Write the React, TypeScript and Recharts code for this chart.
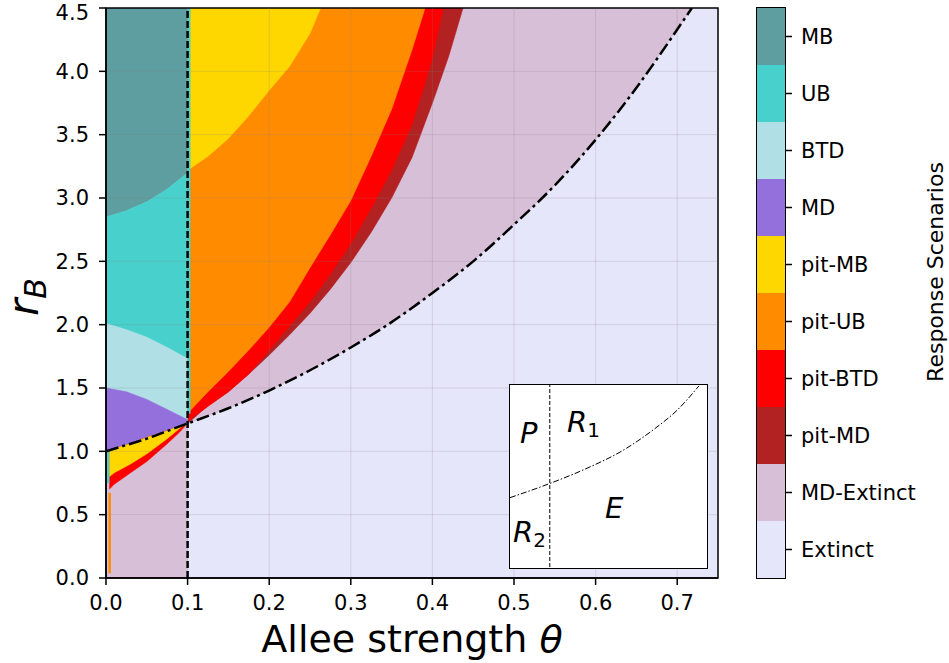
import {
  ComposedChart, Area, Line, XAxis, YAxis, ReferenceLine, ReferenceArea,
  BarChart, Bar, LineChart,
} from "recharts";

document.body.style.margin = "0";

const FONT = "DejaVu Sans";

const SCENARIOS = ["MB", "UB", "BTD", "MD", "pit-MB", "pit-UB", "pit-BTD", "pit-MD", "MD-Extinct", "Extinct"];
const COLORS = ["#5f9ea0", "#48d1cc", "#b0e0e6", "#9370db", "#ffd700", "#ff8c00", "#ff0000", "#b22222", "#d8bfd8", "#e6e6fa"];
const C: Record<string, string> = Object.fromEntries(SCENARIOS.map((s, i) => [s, COLORS[i]]));

const X_TICKS = [0, 0.1, 0.2, 0.3, 0.4, 0.5, 0.6, 0.7];
const Y_TICKS = [0, 0.5, 1, 1.5, 2, 2.5, 3, 3.5, 4, 4.5];
const R_MAX = 4.5;

// dash-dot threshold curve
const CURVE_T = [0, 0.025, 0.05, 0.075, 0.1, 0.15, 0.2, 0.25, 0.3, 0.35, 0.4, 0.45, 0.5, 0.55, 0.6, 0.65, 0.7, 0.718];
const CURVE_R = [1.0, 1.05, 1.1, 1.16, 1.22, 1.34, 1.48, 1.64, 1.82, 2.02, 2.25, 2.5, 2.79, 3.1, 3.46, 3.87, 4.33, 4.5];

// left strip, theta < 0.1
const LEFT_T = [0, 0.025, 0.05, 0.075, 0.1];
const MB_LO = [2.85, 2.9, 2.97, 3.07, 3.2];
const UB_LO = [2.01, 1.96, 1.9, 1.82, 1.73];
const BTD_LO = [1.5, 1.47, 1.41, 1.33, 1.25];
const MD_LO = [1.0, 1.05, 1.1, 1.16, 1.22];

const PIT_LEFT_T = [0.004, 0.01, 0.03, 0.05, 0.075, 0.09, 0.097];
const PIT_LEFT_TOP = [1.01, 1.02, 1.06, 1.11, 1.16, 1.2, 1.215];
const PITMB_LEFT_LO = [0.8, 0.83, 0.9, 0.98, 1.1, 1.18, 1.215];
const PITBTD_LEFT_LO = [0.7, 0.74, 0.83, 0.92, 1.06, 1.15, 1.2];

// right of theta = 0.1, lower edge of each region
const PITMD_T = [0.1, 0.125, 0.15, 0.175, 0.2, 0.225, 0.25, 0.275, 0.3, 0.325, 0.35, 0.375, 0.4, 0.42, 0.4375];
const PITMD_R = [1.22, 1.36, 1.47, 1.61, 1.76, 1.92, 2.09, 2.28, 2.49, 2.73, 3.0, 3.32, 3.75, 4.12, 4.5];
const PITBTD_T = [0.1, 0.15, 0.175, 0.2, 0.225, 0.25, 0.275, 0.3, 0.325, 0.35, 0.375, 0.4, 0.413];
const PITBTD_R = [1.24, 1.47, 1.61, 1.8, 1.99, 2.18, 2.4, 2.64, 2.92, 3.22, 3.58, 4.1, 4.5];
const PITUB_T = [0.1, 0.125, 0.15, 0.175, 0.2, 0.225, 0.25, 0.275, 0.3, 0.325, 0.35, 0.375, 0.391];
const PITUB_R = [1.3, 1.47, 1.63, 1.8, 1.98, 2.18, 2.45, 2.71, 2.98, 3.33, 3.7, 4.17, 4.5];
const PITMB_T = [0.1, 0.125, 0.15, 0.175, 0.2, 0.225, 0.25, 0.263];
const PITMB_R = [3.22, 3.33, 3.47, 3.65, 3.85, 4.04, 4.3, 4.5];

// inset sketch (unit box)
const INSET_T = [0, 0.203, 0.398, 0.567, 0.736, 0.854, 0.964];
const INSET_R = [0.381, 0.459, 0.545, 0.635, 0.758, 0.863, 0.995];
const INSET_SPLIT = 0.203;

type Bound = number[] | number;
const at = (b: Bound, i: number) => (Array.isArray(b) ? b[i] : b);
const band = (ts: number[], lo: Bound, hi: Bound) => ts.map((t, i) => ({ t, v: [at(lo, i), at(hi, i)] }));

const regions: { name: string; data: { t: number; v: number[] }[] }[] = [
  { name: "Extinct", data: band([0, 0.75], 0, R_MAX) },
  { name: "MD-Extinct", data: band(CURVE_T.slice(4), CURVE_R.slice(4), R_MAX) },
  { name: "pit-MD", data: band(PITMD_T, PITMD_R, R_MAX) },
  { name: "pit-BTD", data: band(PITBTD_T, PITBTD_R, R_MAX) },
  { name: "pit-UB", data: band(PITUB_T, PITUB_R, R_MAX) },
  { name: "pit-MB", data: band(PITMB_T, PITMB_R, R_MAX) },
  { name: "MB", data: band(LEFT_T, MB_LO, R_MAX) },
  { name: "UB", data: band(LEFT_T, UB_LO, MB_LO) },
  { name: "BTD", data: band(LEFT_T, BTD_LO, UB_LO) },
  { name: "MD", data: band(LEFT_T, MD_LO, BTD_LO) },
  { name: "MD-Extinct", data: band(LEFT_T, 0, MD_LO) },
  { name: "pit-BTD", data: band(PIT_LEFT_T, PITBTD_LEFT_LO, PIT_LEFT_TOP) },
  { name: "pit-MB", data: band(PIT_LEFT_T, PITMB_LEFT_LO, PIT_LEFT_TOP) },
  { name: "pit-UB", data: band([0.003, 0.006], 0.04, 0.67) },
  { name: "UB", data: band([0, 0.004], 0.75, 1.0) },
  { name: "UB", data: band([0.1, 0.1035], 1.3, R_MAX) },
];

const curveData = CURVE_T.map((t, i) => ({ t, r: CURVE_R[i] }));
const insetData = INSET_T.map((t, i) => ({ t, r: INSET_R[i] }));
const barRow = [Object.fromEntries([["k", "c"], ...SCENARIOS.map((s) => [s, 1])])];

const tickStyle = { fontSize: 21, fill: "#000", fontFamily: FONT };
const blackLine = { stroke: "#000", strokeWidth: 1.5 };

function MainChart() {
  return (
    <ComposedChart width={949} height={663} margin={{ top: 8, right: 231, bottom: 45, left: 46 }}>
      <XAxis
        type="number"
        dataKey="t"
        domain={[0, 0.75]}
        ticks={X_TICKS}
        allowDataOverflow
        tickFormatter={(v: number) => v.toFixed(1)}
        tick={tickStyle}
        tickSize={7}
        tickMargin={10}
        axisLine={blackLine}
        tickLine={blackLine}
        height={40}
        label={{
          content: ({ viewBox }: any) => (
            <text x={viewBox.x + viewBox.width / 2} y={viewBox.y + 74} textAnchor="middle"
              fontFamily={FONT} fontSize={38} fill="#000">
              Allee strength <tspan fontStyle="italic">θ</tspan>
            </text>
          ),
        }}
      />
      <YAxis
        type="number"
        domain={[0, R_MAX]}
        ticks={Y_TICKS}
        allowDataOverflow
        tickFormatter={(v: number) => v.toFixed(1)}
        tick={tickStyle}
        tickSize={7}
        tickMargin={10}
        axisLine={blackLine}
        tickLine={blackLine}
        width={60}
        label={{
          content: () => (
            <text x={38} y={297} transform="rotate(-90, 38, 297)" textAnchor="middle"
              fontFamily={FONT} fontStyle="italic" fill="#000">
              <tspan fontSize={42}>r</tspan>
              <tspan fontSize={30} dy={8}>B</tspan>
            </text>
          ),
        }}
      />
      {regions.map((g, i) => (
        <Area
          key={i}
          data={g.data}
          dataKey="v"
          type="linear"
          fill={C[g.name]}
          fillOpacity={1}
          stroke={C[g.name]}
          strokeWidth={0.6}
          dot={false}
          activeDot={false}
          isAnimationActive={false}
        />
      ))}
      {X_TICKS.slice(1).map((t) => (
        <ReferenceLine key={"gx" + t} x={t} stroke="#808080" strokeOpacity={0.22} strokeWidth={1} />
      ))}
      {Y_TICKS.slice(1, -1).map((r) => (
        <ReferenceLine key={"gy" + r} y={r} stroke="#808080" strokeOpacity={0.22} strokeWidth={1} />
      ))}
      <ReferenceLine x={0.1} stroke="#000" strokeWidth={2.5} strokeDasharray="7 3" />
      <Line
        data={curveData}
        dataKey="r"
        type="monotone"
        stroke="#000"
        strokeWidth={2.5}
        strokeDasharray="13 4 3 4"
        dot={false}
        activeDot={false}
        isAnimationActive={false}
      />
      <ReferenceArea x1={0} x2={0.75} y1={0} y2={R_MAX} fillOpacity={0} stroke="#000" strokeWidth={1.5} />
    </ComposedChart>
  );
}

function Inset() {
  const txt = { fontFamily: FONT, fontStyle: "italic" as const, fill: "#000" };
  return (
    <div style={{ position: "absolute", left: 509, top: 384, width: 199, height: 185, border: "1.5px solid #000", boxSizing: "border-box", background: "#fff" }}>
      <LineChart width={196} height={182} margin={{ top: 0, right: 0, bottom: 0, left: 0 }}>
        <XAxis type="number" dataKey="t" domain={[0, 1]} hide />
        <YAxis type="number" domain={[0, 1]} hide />
        <ReferenceLine x={INSET_SPLIT} stroke="#000" strokeWidth={1} strokeDasharray="4 2" />
        <Line data={insetData} dataKey="r" type="monotone" stroke="#000" strokeWidth={1}
          strokeDasharray="6 2 1.5 2" dot={false} activeDot={false} isAnimationActive={false} />
        <text x={10} y={58} fontSize={29} {...txt}>P</text>
        <text x={57} y={47} fontSize={29} {...txt}>R<tspan fontSize={20} fontStyle="normal" dy={5}>1</tspan></text>
        <text x={95} y={133} fontSize={29} {...txt}>E</text>
        <text x={3} y={157} fontSize={29} {...txt}>R<tspan fontSize={20} fontStyle="normal" dy={5}>2</tspan></text>
      </LineChart>
    </div>
  );
}

function ColorBar() {
  const stack = [...SCENARIOS].reverse();
  return (
    <div style={{ position: "absolute", left: 700, top: 0 }}>
      <BarChart width={249} height={663} data={barRow} barCategoryGap={0}
        margin={{ top: 8, right: 0, bottom: 85, left: 57 }}>
        <XAxis dataKey="k" hide />
        <YAxis
          orientation="right"
          type="number"
          domain={[0, 10]}
          ticks={[0.5, 1.5, 2.5, 3.5, 4.5, 5.5, 6.5, 7.5, 8.5, 9.5]}
          tickFormatter={(v: number) => SCENARIOS[9 - Math.floor(v)]}
          tick={tickStyle}
          tickSize={7}
          tickMargin={9}
          axisLine={false}
          tickLine={blackLine}
          width={164}
          label={{
            content: () => (
              <text x={243} y={272} transform="rotate(-90, 243, 272)" textAnchor="middle"
                fontFamily={FONT} fontSize={22} fill="#000">
                Response Scenarios
              </text>
            ),
          }}
        />
        {stack.map((s) => (
          <Bar key={s} dataKey={s} stackId="cb" fill={C[s]} isAnimationActive={false} />
        ))}
      </BarChart>
      <div style={{ position: "absolute", left: 56, top: 7, width: 30, height: 572, border: "1.5px solid #000", boxSizing: "border-box" }} />
    </div>
  );
}

export default function App() {
  return (
    <div style={{ position: "relative", width: 949, height: 663, background: "#fff" }}>
      <MainChart />
      <Inset />
      <ColorBar />
    </div>
  );
}
